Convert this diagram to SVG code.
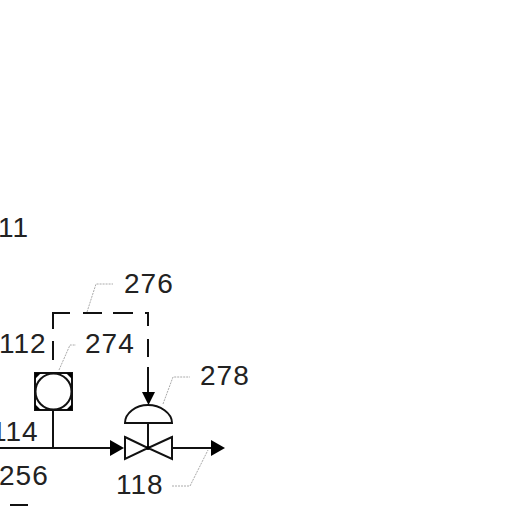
<svg xmlns="http://www.w3.org/2000/svg" width="512" height="512" viewBox="0 0 512 512">
<style>
text{font-family:"Liberation Sans",Arial,sans-serif;font-size:28px;fill:#222;letter-spacing:1px;font-weight:400}
.l{fill:none;stroke:#111;stroke-width:2}
.f{fill:#fff;stroke:#111;stroke-width:2}
.a{fill:#000}
.t{fill:none;stroke:#aaa;stroke-width:1;stroke-dasharray:2 1}
</style>
<rect width="512" height="512" fill="#fff"/>
<g id="connectors">
<path class="l" d="M0 448H112"/>
<path class="a" d="M110 440L124 448L110 456Z"/>
<path class="l" d="M53 411V448"/>
<path class="l" d="M53 360V341M53 329V313H70M83 313H102M113 313H133M145 313H148V326M148 339V357M148 367V393"/>
<path class="a" d="M142 392H155L148.500 405Z"/>
<path class="l" d="M172 448H212"/>
<path class="a" d="M211 440L225 448L211 456Z"/>
<path class="l" d="M10 505H28"/>
</g>
<g id="leaders">
<path class="t" d="M87 312L96 284H113"/>
<path class="t" d="M59 370L70 345H76"/>
<path class="t" d="M163 404L173 377H190"/>
<path class="t" d="M172 486H190L208 450"/>
</g>
<g id="transmitter">
<rect class="l" x="35" y="373" width="37" height="37"/>
<path class="a" d="M35 373H41L35 379ZM72 373H66L72 379ZM35 410H41L35 404ZM72 410H66L72 404Z"/>
<circle class="f" cx="53.500" cy="391.500" r="18"/>
</g>
<g id="valve">
<path class="f" d="M125 423C125 413 136 405 148 405C160 405 172 413 172 423Z"/>
<path class="l" d="M148 423V448"/>
<path class="f" d="M125 437L148 448L125 459ZM172 437L148 448L172 459Z"/>
<circle class="a" cx="148" cy="448" r="2"/>
</g>
<g id="labels">
<text x="-2" y="237">11</text>
<text x="124" y="293">276</text>
<text x="-1" y="353">112</text>
<text x="85" y="353">274</text>
<text x="200" y="385">278</text>
<text x="-9" y="441">114</text>
<text x="-1" y="485">256</text>
<text x="116" y="494">118</text>
</g>
</svg>
